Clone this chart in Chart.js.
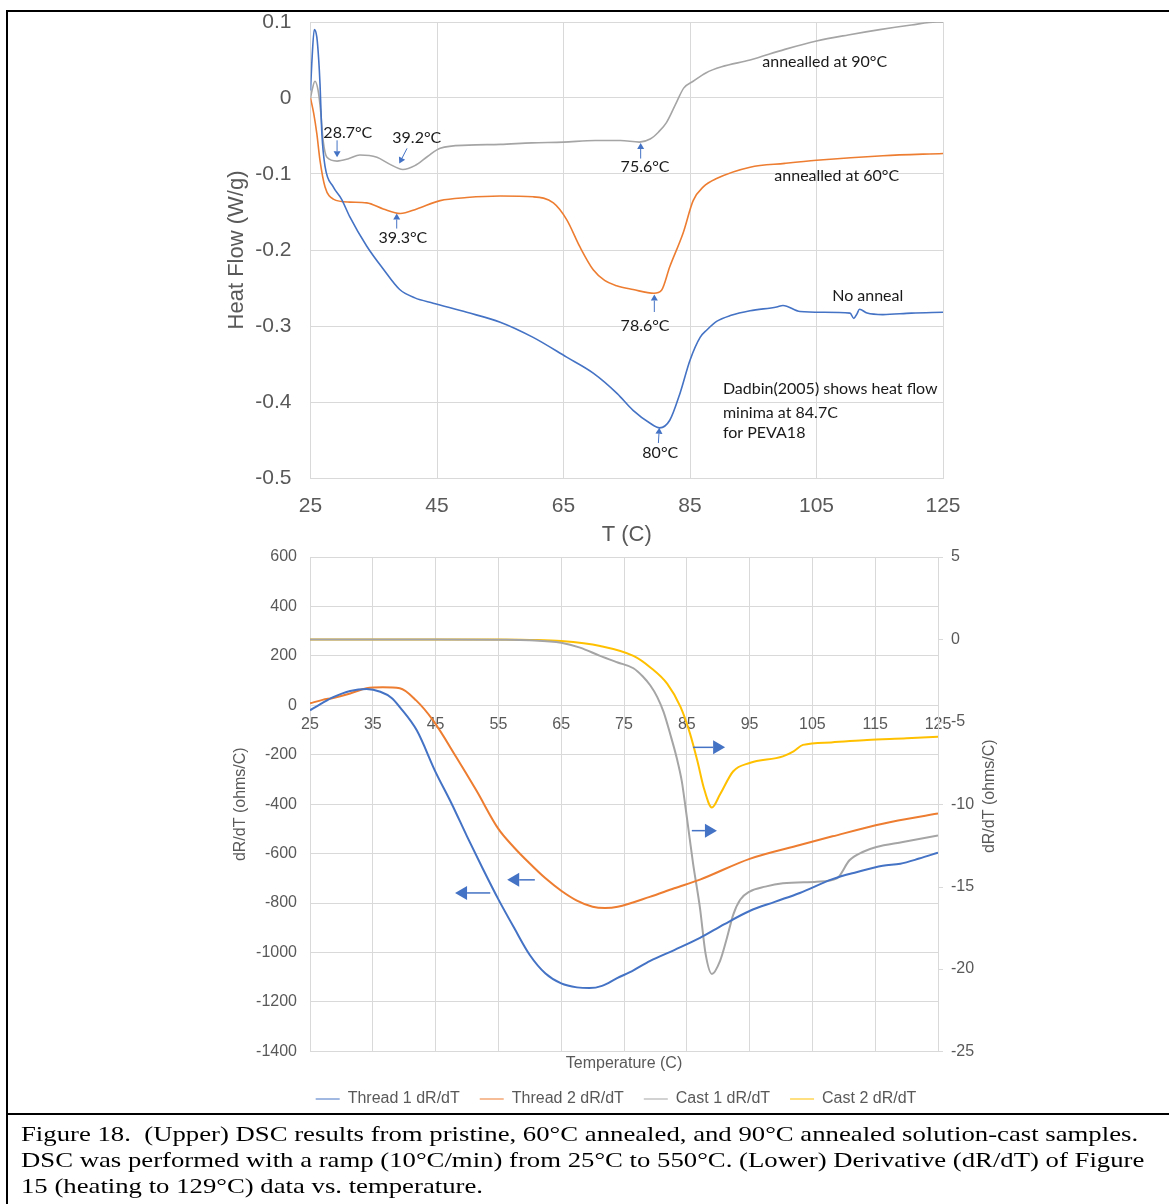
<!DOCTYPE html>
<html>
<head>
<meta charset="utf-8">
<script src="https://cdn.jsdelivr.net/npm/chart.js@4.4.0/dist/chart.umd.min.js"></script>
<style>
  body { margin: 0; background: #fff; width: 1169px; height: 1204px; overflow: hidden; position: relative; }
  canvas { position: absolute; left: 0; }
  #upper { top: 0; }
  #lower { top: 545px; }
  .frame { position: absolute; left: 6px; top: 10px; width: 1300px; height: 1400px; border-left: 2px solid #000; border-top: 2px solid #000; }
  .sep { position: absolute; left: 6px; top: 1113px; width: 1300px; border-top: 2px solid #000; }
  .caption { position: absolute; left: 21px; top: 1121px; font-family: "Liberation Serif", "Times New Roman", serif; font-size: 22px; line-height: 26px; white-space: pre; color: #000; transform: scaleX(1.215); transform-origin: 0 0; }
</style>
</head>
<body>
<div class="frame"></div>
<div class="sep"></div>
<canvas id="upper" width="1169" height="550"></canvas>
<canvas id="lower" width="1169" height="585"></canvas>
<div class="caption">Figure 18.  (Upper) DSC results from pristine, 60°C annealed, and 90°C annealed solution-cast samples.
DSC was performed with a ramp (10°C/min) from 25°C to 550°C. (Lower) Derivative (dR/dT) of Figure
15 (heating to 129°C) data vs. temperature.</div>
<script>
// ---- upper chart: DSC heat flow (W/g) vs T (C) ----
const upperXTicks = [25, 45, 65, 85, 105, 125];
const upperYTicks = [0.1, 0, -0.1, -0.2, -0.3, -0.4, -0.5];

const noAnnealT  = [25, 25.2, 25.6, 26, 26.3, 26.5, 26.8, 27.3, 28.6, 29.9, 31.2, 33.9, 36.5, 39.1, 41.5, 44.4, 49.7, 55, 60.2, 65.5, 69.7, 73.5, 76, 78.7, 80.2, 81.8, 83.4, 85, 86.6, 87.7, 89.2, 91.5, 94.5, 98.7, 99.7, 102.4, 106, 110.3, 110.9, 111.4, 111.8, 113, 115.5, 120, 125];
const noAnnealHF = [0.01, 0.045, 0.09, 0.08, 0.05, 0.019, -0.047, -0.09, -0.117, -0.133, -0.156, -0.195, -0.225, -0.252, -0.263, -0.27, -0.282, -0.295, -0.315, -0.341, -0.362, -0.389, -0.411, -0.428, -0.434, -0.424, -0.389, -0.345, -0.315, -0.305, -0.294, -0.286, -0.28, -0.275, -0.273, -0.281, -0.282, -0.283, -0.29, -0.284, -0.278, -0.283, -0.285, -0.283, -0.282];

const anneal60T  = [25, 25.5, 26, 26.5, 27.3, 28.6, 31.2, 33.9, 36.5, 39.2, 41.8, 45.5, 49.7, 55, 60.2, 63.4, 65.5, 67.6, 69.7, 71.5, 73.4, 76, 79.3, 80.5, 81.8, 83.9, 85.5, 87.1, 89.2, 94.5, 100, 105, 115.5, 125];
const anneal60HF = [0, -0.02, -0.047, -0.082, -0.117, -0.133, -0.137, -0.138, -0.146, -0.152, -0.146, -0.135, -0.131, -0.129, -0.13, -0.138, -0.16, -0.196, -0.226, -0.24, -0.247, -0.252, -0.257, -0.253, -0.222, -0.178, -0.135, -0.117, -0.106, -0.091, -0.086, -0.082, -0.076, -0.073];

const anneal90T  = [25, 25.3, 25.7, 26.2, 26.6, 27, 27.6, 29.2, 31, 32.8, 35.5, 37.5, 39.6, 41.5, 43.5, 45.5, 50, 55, 60, 65, 70, 74, 77, 78.7, 80, 81.3, 82.9, 84, 85.5, 87.5, 90, 94.5, 100, 105, 110, 115, 120, 124, 125];
const anneal90HF = [0, 0.012, 0.022, 0.01, -0.017, -0.056, -0.078, -0.083, -0.08, -0.075, -0.078, -0.087, -0.094, -0.089, -0.077, -0.066, -0.062, -0.061, -0.059, -0.058, -0.056, -0.056, -0.058, -0.054, -0.045, -0.032, -0.005, 0.013, 0.022, 0.033, 0.041, 0.05, 0.064, 0.075, 0.083, 0.09, 0.096, 0.1, 0.1];

// ---- lower chart: dR/dT vs temperature ----
const lowerXTicks = [25, 35, 45, 55, 65, 75, 85, 95, 105, 115, 125];
const lowerLeftTicks = [600, 400, 200, 0, -200, -400, -600, -800, -1000, -1200, -1400];
const lowerRightTicks = [5, 0, -5, -10, -15, -20, -25];

const thread1T = [25, 26, 27, 28.7, 31.4, 34, 36.2, 38, 39.3, 42, 45, 47.5, 50, 52.5, 55, 57.5, 60, 62.5, 65, 67.5, 69.5, 71.5, 73.9, 76.5, 79.1, 83, 87.1, 91, 95, 99, 103, 108.3, 112, 116.2, 119, 122, 125];
const thread1V = [-20, -5, 10, 33, 58, 66, 55, 30, -7, -101, -270, -395, -530, -660, -785, -900, -1010, -1085, -1125, -1141, -1144, -1135, -1104, -1072, -1035, -990, -941, -885, -832, -795, -759, -702, -675, -649, -641, -620, -596];

const thread2T = [25, 27, 28.7, 31.4, 34, 36.6, 39.3, 41.9, 44.6, 48.3, 51.5, 55, 57.5, 60, 62.5, 65, 67.5, 70, 72, 74, 79.1, 83, 87.1, 95, 103, 108.2, 116.2, 125];
const thread2V = [8, 22, 30, 48, 69, 73, 69, 20, -61, -210, -345, -500, -575, -640, -700, -750, -790, -815, -820, -815, -775, -740, -705, -621, -565, -530, -479, -438];

const cast1T = [25, 45, 55, 60, 65, 68, 71.2, 74, 76.5, 78, 79.2, 80.3, 81.3, 82.4, 83.4, 84.2, 84.8, 85.5, 86, 87.1, 88, 89, 90.3, 91.4, 92.4, 93.5, 95, 97.5, 100.3, 105.7, 108.9, 110.9, 113, 115.2, 119.4, 125];
const cast1V = [0, 0, -0.02, -0.05, -0.2, -0.5, -1.0, -1.4, -1.75, -2.25, -2.8, -3.5, -4.4, -5.8, -7.2, -8.6, -10.2, -12.2, -13.6, -16.3, -19.1, -20.3, -19.5, -18.1, -16.7, -15.8, -15.3, -15, -14.8, -14.7, -14.5, -13.4, -12.9, -12.6, -12.3, -11.9];

const cast2T = [25, 55, 60, 65, 71.2, 76.5, 79.2, 81.9, 84, 85.5, 86.7, 87.7, 89, 90.3, 92.4, 95, 100.3, 102, 103.5, 108, 113.7, 120, 125];
const cast2V = [0, 0, -0.03, -0.1, -0.4, -1.0, -1.7, -2.7, -4.1, -5.7, -7.4, -9.0, -10.2, -9.4, -8.0, -7.5, -7.1, -6.8, -6.4, -6.25, -6.1, -6.0, -5.9];

// annotations (data coordinates)
const upperLabels = [
  { text: '28.7°C', x: 30.9, y: -0.0453 },
  { text: '39.2°C', x: 41.8, y: -0.053 },
  { text: '39.3°C', x: 39.6, y: -0.1846 },
  { text: '75.6°C', x: 77.9, y: -0.0912 },
  { text: '78.6°C', x: 77.9, y: -0.2992 },
  { text: '80°C', x: 80.3, y: -0.467 },
  { text: 'annealled at 90°C', x: 106.3, y: 0.047 },
  { text: 'annealled at 60°C', x: 108.2, y: -0.103 },
  { text: 'No anneal', x: 113.1, y: -0.26 },
  { text: 'Dadbin(2005) shows heat flow', x: 90.2, y: -0.383, left: true },
  { text: 'minima at 84.7C', x: 90.2, y: -0.414, left: true },
  { text: 'for PEVA18', x: 90.2, y: -0.441, left: true }
];
const upperArrows = [
  [29.2, -0.0557, 29.2, -0.078],
  [40.26, -0.0663, 39.04, -0.0862],
  [38.63, -0.1718, 38.63, -0.152],
  [77.2, -0.0797, 77.2, -0.0592],
  [79.36, -0.2816, 79.36, -0.2587],
  [80.0, -0.454, 80.15, -0.434]
];
const lowerArrows = [
  [53.7, -759, 48.1, -759],
  [60.8, -706, 56.4, -706],
  [86.0, -170, 91.1, -170],
  [85.8, -507, 89.8, -507]
];

const BLUE = '#4472c4', ORANGE = '#ed7d31', GRAY = '#a5a5a5', YELLOW = '#ffc000';
const GRID = '#d9d9d9', TXT = '#595959';

Chart.defaults.font.family = "'Liberation Sans', Arial, sans-serif";

function pts(xs, ys) {
  return xs.map((x, i) => ({ x: x, y: ys[i] }));
}
function setTicks(list) {
  return s => { s.ticks = list.map(v => ({ value: v })); };
}

function drawArrow(ctx, x1, y1, x2, y2, head, half, lw) {
  const a = Math.atan2(y2 - y1, x2 - x1);
  const bx = x2 - head * Math.cos(a), by = y2 - head * Math.sin(a);
  ctx.save();
  ctx.strokeStyle = BLUE;
  ctx.fillStyle = BLUE;
  ctx.lineWidth = lw;
  ctx.beginPath();
  ctx.moveTo(x1, y1);
  ctx.lineTo(bx, by);
  ctx.stroke();
  ctx.beginPath();
  ctx.moveTo(x2, y2);
  ctx.lineTo(bx + half * Math.sin(a), by - half * Math.cos(a));
  ctx.lineTo(bx - half * Math.sin(a), by + half * Math.cos(a));
  ctx.closePath();
  ctx.fill();
  ctx.restore();
}

// text labels and arrows on the DSC chart
const upperNotes = {
  id: 'upperNotes',
  afterDraw(chart) {
    const { ctx, scales: { x, y } } = chart;
    upperArrows.forEach(a => {
      drawArrow(ctx, x.getPixelForValue(a[0]), y.getPixelForValue(a[1]),
        x.getPixelForValue(a[2]), y.getPixelForValue(a[3]), 6, 3.5, 1);
    });
    ctx.save();
    ctx.font = "16px Lato, 'Open Sans', sans-serif";
    ctx.fillStyle = '#1a1a1a';
    ctx.textBaseline = 'middle';
    upperLabels.forEach(l => {
      ctx.textAlign = l.left ? 'left' : 'center';
      ctx.fillText(l.text, x.getPixelForValue(l.x), y.getPixelForValue(l.y));
    });
    ctx.restore();
  }
};

// arrows, right tick marks and right axis title on the dR/dT chart
const lowerNotes = {
  id: 'lowerNotes',
  afterDraw(chart) {
    const { ctx, chartArea, scales: { x, y, y2 } } = chart;
    lowerArrows.forEach(a => {
      drawArrow(ctx, x.getPixelForValue(a[0]), y.getPixelForValue(a[1]),
        x.getPixelForValue(a[2]), y.getPixelForValue(a[3]), 12, 7, 1.5);
    });
    ctx.save();
    ctx.strokeStyle = GRID;
    ctx.lineWidth = 1;
    lowerRightTicks.forEach(v => {
      const py = Math.round(y2.getPixelForValue(v)) + 0.5;
      ctx.beginPath();
      ctx.moveTo(chartArea.right, py);
      ctx.lineTo(chartArea.right + 5, py);
      ctx.stroke();
    });
    ctx.translate(chartArea.right + 52, (chartArea.top + chartArea.bottom) / 2 - 8);
    ctx.rotate(-Math.PI / 2);
    ctx.font = "16px 'Liberation Sans', Arial, sans-serif";
    ctx.fillStyle = TXT;
    ctx.textAlign = 'center';
    ctx.textBaseline = 'middle';
    ctx.fillText('dR/dT (ohms/C)', 0, 0);
    ctx.restore();
  }
};

new Chart(document.getElementById('upper'), {
  type: 'line',
  data: {
    datasets: [
      { label: 'No anneal', data: pts(noAnnealT, noAnnealHF), borderColor: BLUE },
      { label: 'annealled at 60°C', data: pts(anneal60T, anneal60HF), borderColor: ORANGE },
      { label: 'annealled at 90°C', data: pts(anneal90T, anneal90HF), borderColor: GRAY }
    ]
  },
  options: {
    responsive: false,
    animation: false,
    devicePixelRatio: 1,
    elements: {
      point: { radius: 0 },
      line: { borderWidth: 1.6, cubicInterpolationMode: 'monotone' }
    },
    layout: { autoPadding: false, padding: { left: 0, right: 226, top: 22, bottom: 0 } },
    plugins: { legend: { display: false }, tooltip: { enabled: false } },
    scales: {
      x: {
        type: 'linear', min: 25, max: 125,
        afterBuildTicks: setTicks(upperXTicks),
        afterFit: s => { s.height = 72; },
        grid: { color: GRID, drawTicks: false },
        border: { color: GRID },
        ticks: { color: TXT, font: { size: 21 }, padding: 16 },
        title: { display: true, text: 'T (C)', color: TXT, font: { size: 22 }, padding: { top: 0, bottom: 2 } }
      },
      y: {
        min: -0.5, max: 0.1,
        afterBuildTicks: setTicks(upperYTicks),
        afterFit: s => { s.width = 310.5; },
        grid: { color: GRID, drawTicks: true, tickLength: 19, tickColor: 'rgba(0,0,0,0)' },
        border: { color: GRID },
        ticks: { color: TXT, font: { size: 21 }, padding: 0, callback: v => String(Math.round(v * 10) / 10) },
        title: { display: true, text: 'Heat Flow (W/g)', color: TXT, font: { size: 22 }, padding: { top: 224 } }
      }
    }
  },
  plugins: [upperNotes]
});

new Chart(document.getElementById('lower'), {
  type: 'line',
  data: {
    datasets: [
      { label: 'Thread 1 dR/dT', data: pts(thread1T, thread1V), borderColor: BLUE, yAxisID: 'y' },
      { label: 'Thread 2 dR/dT', data: pts(thread2T, thread2V), borderColor: ORANGE, yAxisID: 'y' },
      { label: 'Cast 1 dR/dT', data: pts(cast1T, cast1V), borderColor: GRAY, yAxisID: 'y2' },
      { label: 'Cast 2 dR/dT', data: pts(cast2T, cast2V), borderColor: YELLOW, yAxisID: 'y2' }
    ]
  },
  options: {
    responsive: false,
    animation: false,
    devicePixelRatio: 1,
    elements: {
      point: { radius: 0 },
      line: { borderWidth: 2, cubicInterpolationMode: 'monotone' }
    },
    layout: { autoPadding: false, padding: { left: 63, right: 0, top: 12, bottom: 13 } },
    plugins: {
      tooltip: { enabled: false },
      legend: {
        position: 'bottom',
        labels: { usePointStyle: true, pointStyle: 'line', pointStyleWidth: 24, padding: 20, color: TXT, font: { size: 16 } }
      },
      title: {
        display: true, text: 'Temperature (C)', position: 'bottom', fullSize: false, weight: 500,
        color: TXT, font: { size: 16, weight: 'normal' }, padding: { top: 2.4, bottom: -2 }
      }
    },
    scales: {
      x: {
        type: 'linear', min: 25, max: 125, position: { y: 0 },
        afterBuildTicks: setTicks(lowerXTicks),
        grid: { color: GRID, drawTicks: false },
        border: { color: GRID },
        ticks: { color: TXT, font: { size: 16 }, padding: 10 }
      },
      y: {
        position: 'left', min: -1400, max: 600,
        afterBuildTicks: setTicks(lowerLeftTicks),
        afterFit: s => { s.width = 247; },
        grid: { color: GRID, drawTicks: true, tickLength: 13, tickColor: 'rgba(0,0,0,0)' },
        border: { color: GRID },
        ticks: { color: TXT, font: { size: 16 }, padding: 0, callback: v => String(v) },
        title: { display: true, text: 'dR/dT (ohms/C)', color: TXT, font: { size: 16 }, padding: { top: 168 } }
      },
      y2: {
        position: 'right', min: -25, max: 5,
        afterBuildTicks: setTicks(lowerRightTicks),
        afterFit: s => { s.width = 231; },
        grid: { drawOnChartArea: false, drawTicks: true, tickLength: 13, tickColor: 'rgba(0,0,0,0)' },
        border: { color: GRID },
        ticks: { color: TXT, font: { size: 16 }, padding: 0, callback: v => String(v) }
      }
    }
  },
  plugins: [lowerNotes]
});
</script>
</body>
</html>
